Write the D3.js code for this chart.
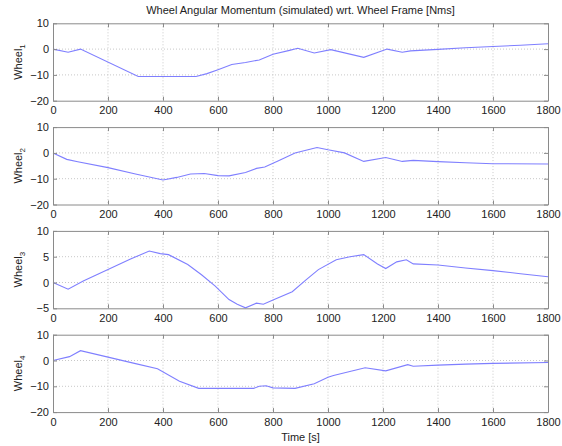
<!DOCTYPE html>
<html>
<head>
<meta charset="utf-8">
<script src="https://cdn.jsdelivr.net/npm/d3@7/dist/d3.min.js"></script>
<style>
    body { margin: 0; background: #fff; }
    svg text { font-family: "Liberation Sans", Arial, sans-serif; fill: #222; }
</style>
</head>
<body>
<div id="chart"></div>
<script>
'use strict';

const TITLE = 'Wheel Angular Momentum (simulated) wrt. Wheel Frame [Nms]';
const X_LABEL = 'Time [s]';
const TIME_TICKS = [0, 200, 400, 600, 800, 1000, 1200, 1400, 1600, 1800];

// [time s, momentum Nms]
const wheel1 = [[0, 0], [55, -1.2], [100, 0], [310, -10.6], [520, -10.6], [560, -9.5], [600, -8], [650, -6],
    [700, -5.2], [750, -4.2], [800, -2], [860, -0.5], [890, 0.3], [950, -1.5], [1010, -0.2], [1130, -3.2],
    [1215, 0], [1270, -1.2], [1300, -0.7], [1400, -0.1], [1500, 0.5], [1600, 1], [1700, 1.5], [1800, 2.1]];
const wheel2 = [[0, 0], [50, -2.5], [90, -3.4], [200, -5.7], [300, -8.2], [400, -10.5], [450, -9.5], [500, -8.2],
    [550, -8], [600, -8.8], [640, -8.9], [700, -7.6], [740, -6], [770, -5.5], [820, -3], [880, 0], [960, 2.1],
    [1000, 1.2], [1060, 0], [1130, -3.3], [1210, -1.8], [1270, -3.3], [1310, -2.9], [1400, -3.4], [1500, -3.8],
    [1600, -4.2], [1800, -4.3]];
const wheel3 = [[0, 0], [55, -1.3], [110, 0.3], [200, 2.5], [280, 4.5], [350, 6.1], [390, 5.6], [420, 5.4],
    [490, 3.5], [540, 1.5], [590, -0.7], [640, -3.3], [670, -4.2], [700, -4.9], [740, -4], [765, -4.2],
    [800, -3.4], [870, -1.8], [920, 0.5], [965, 2.5], [1030, 4.4], [1080, 5], [1130, 5.4], [1180, 3.6],
    [1210, 2.7], [1250, 4], [1285, 4.4], [1310, 3.6], [1400, 3.4], [1500, 2.8], [1600, 2.3], [1700, 1.7],
    [1800, 1.1]];
const wheel4 = [[0, 0], [60, 1.5], [100, 3.8], [200, 1.3], [300, -1.2], [380, -3.2], [460, -8], [530, -10.8],
    [730, -10.8], [750, -10], [775, -9.8], [800, -10.6], [880, -10.8], [950, -9], [1000, -6.5], [1020, -5.8],
    [1135, -2.8], [1210, -4], [1290, -1.6], [1310, -2.2], [1400, -1.8], [1500, -1.4], [1600, -1.1], [1800, -0.8]];

const yTicksWide = [-20, -10, 0, 10];
const yTicksNarrow = [-5, 0, 5, 10];

const panels = [
    { sub: '1', values: wheel1, ticks: yTicksWide },
    { sub: '2', values: wheel2, ticks: yTicksWide },
    { sub: '3', values: wheel3, ticks: yTicksNarrow },
    { sub: '4', values: wheel4, ticks: yTicksWide }
];

const W = 562, H = 446;
const left = 53, right = 548;
const firstTop = 23.3, step = 103.8, panelH = 77.4;

const svg = d3.select('#chart').append('svg')
    .attr('width', W).attr('height', H);

const xScale = d3.scaleLinear().domain([0, 1800]).range([left, right]);
const fmt = d3.format('d');

svg.append('text')
    .attr('x', (left + right) / 2).attr('y', 14)
    .attr('text-anchor', 'middle').style('font-size', '11px')
    .text(TITLE);

panels.forEach(function (p, i) {
    const top = firstTop + i * step;
    const bottom = top + panelH;
    const yScale = d3.scaleLinear().domain(d3.extent(p.ticks)).range([bottom, top]);
    const g = svg.append('g').attr('class', 'panel');

    // dotted grid
    g.selectAll('.vgrid').data(TIME_TICKS.slice(1, -1)).enter().append('line')
        .attr('x1', function (d) { return xScale(d); }).attr('x2', function (d) { return xScale(d); })
        .attr('y1', top).attr('y2', bottom)
        .attr('stroke', '#c8c8c8').attr('stroke-dasharray', '1,2');
    g.selectAll('.hgrid').data(p.ticks.slice(1, -1)).enter().append('line')
        .attr('x1', left).attr('x2', right)
        .attr('y1', function (d) { return yScale(d); }).attr('y2', function (d) { return yScale(d); })
        .attr('stroke', '#c8c8c8').attr('stroke-dasharray', '1,2');

    const line = d3.line()
        .x(function (d) { return xScale(d[0]); })
        .y(function (d) { return yScale(d[1]); });

    g.append('path').datum(p.values)
        .attr('d', line).attr('fill', 'none')
        .attr('stroke', '#7f7fff').attr('stroke-width', 1.1);

    // axes, ticks pointing inward like matlab
    const axB = d3.axisBottom(xScale).tickValues(TIME_TICKS).tickFormat(fmt).tickSizeInner(-4).tickSizeOuter(0).tickPadding(6);
    const axT = d3.axisTop(xScale).tickValues(TIME_TICKS).tickSizeInner(-4).tickSizeOuter(0).tickFormat('');
    const axL = d3.axisLeft(yScale).tickValues(p.ticks).tickFormat(fmt).tickSizeInner(-4).tickSizeOuter(0).tickPadding(4);
    const axR = d3.axisRight(yScale).tickValues(p.ticks).tickSizeInner(-4).tickSizeOuter(0).tickFormat('');

    [[axB, 'translate(0,' + bottom + ')'], [axT, 'translate(0,' + top + ')'],
        [axL, 'translate(' + left + ',0)'], [axR, 'translate(' + right + ',0)']].forEach(function (a) {
        g.append('g').attr('transform', a[1]).call(a[0])
            .call(function (s) {
                s.select('.domain').attr('stroke', '#8a8a8a');
                s.selectAll('.tick line').attr('stroke', '#8a8a8a');
                s.selectAll('text').style('font-size', '11px').style('font-family', '"Liberation Sans", Arial, sans-serif').attr('fill', '#222');
            });
    });

    const lab = g.append('text')
        .attr('transform', 'translate(22,' + (top + panelH / 2) + ') rotate(-90)')
        .attr('text-anchor', 'middle').style('font-size', '11px');
    lab.append('tspan').text('Wheel');
    lab.append('tspan').attr('dy', 3).style('font-size', '8px').text(p.sub);
});

svg.append('text')
    .attr('x', (left + right) / 2).attr('y', 441)
    .attr('text-anchor', 'middle').style('font-size', '11px')
    .text(X_LABEL);
</script>
</body>
</html>
